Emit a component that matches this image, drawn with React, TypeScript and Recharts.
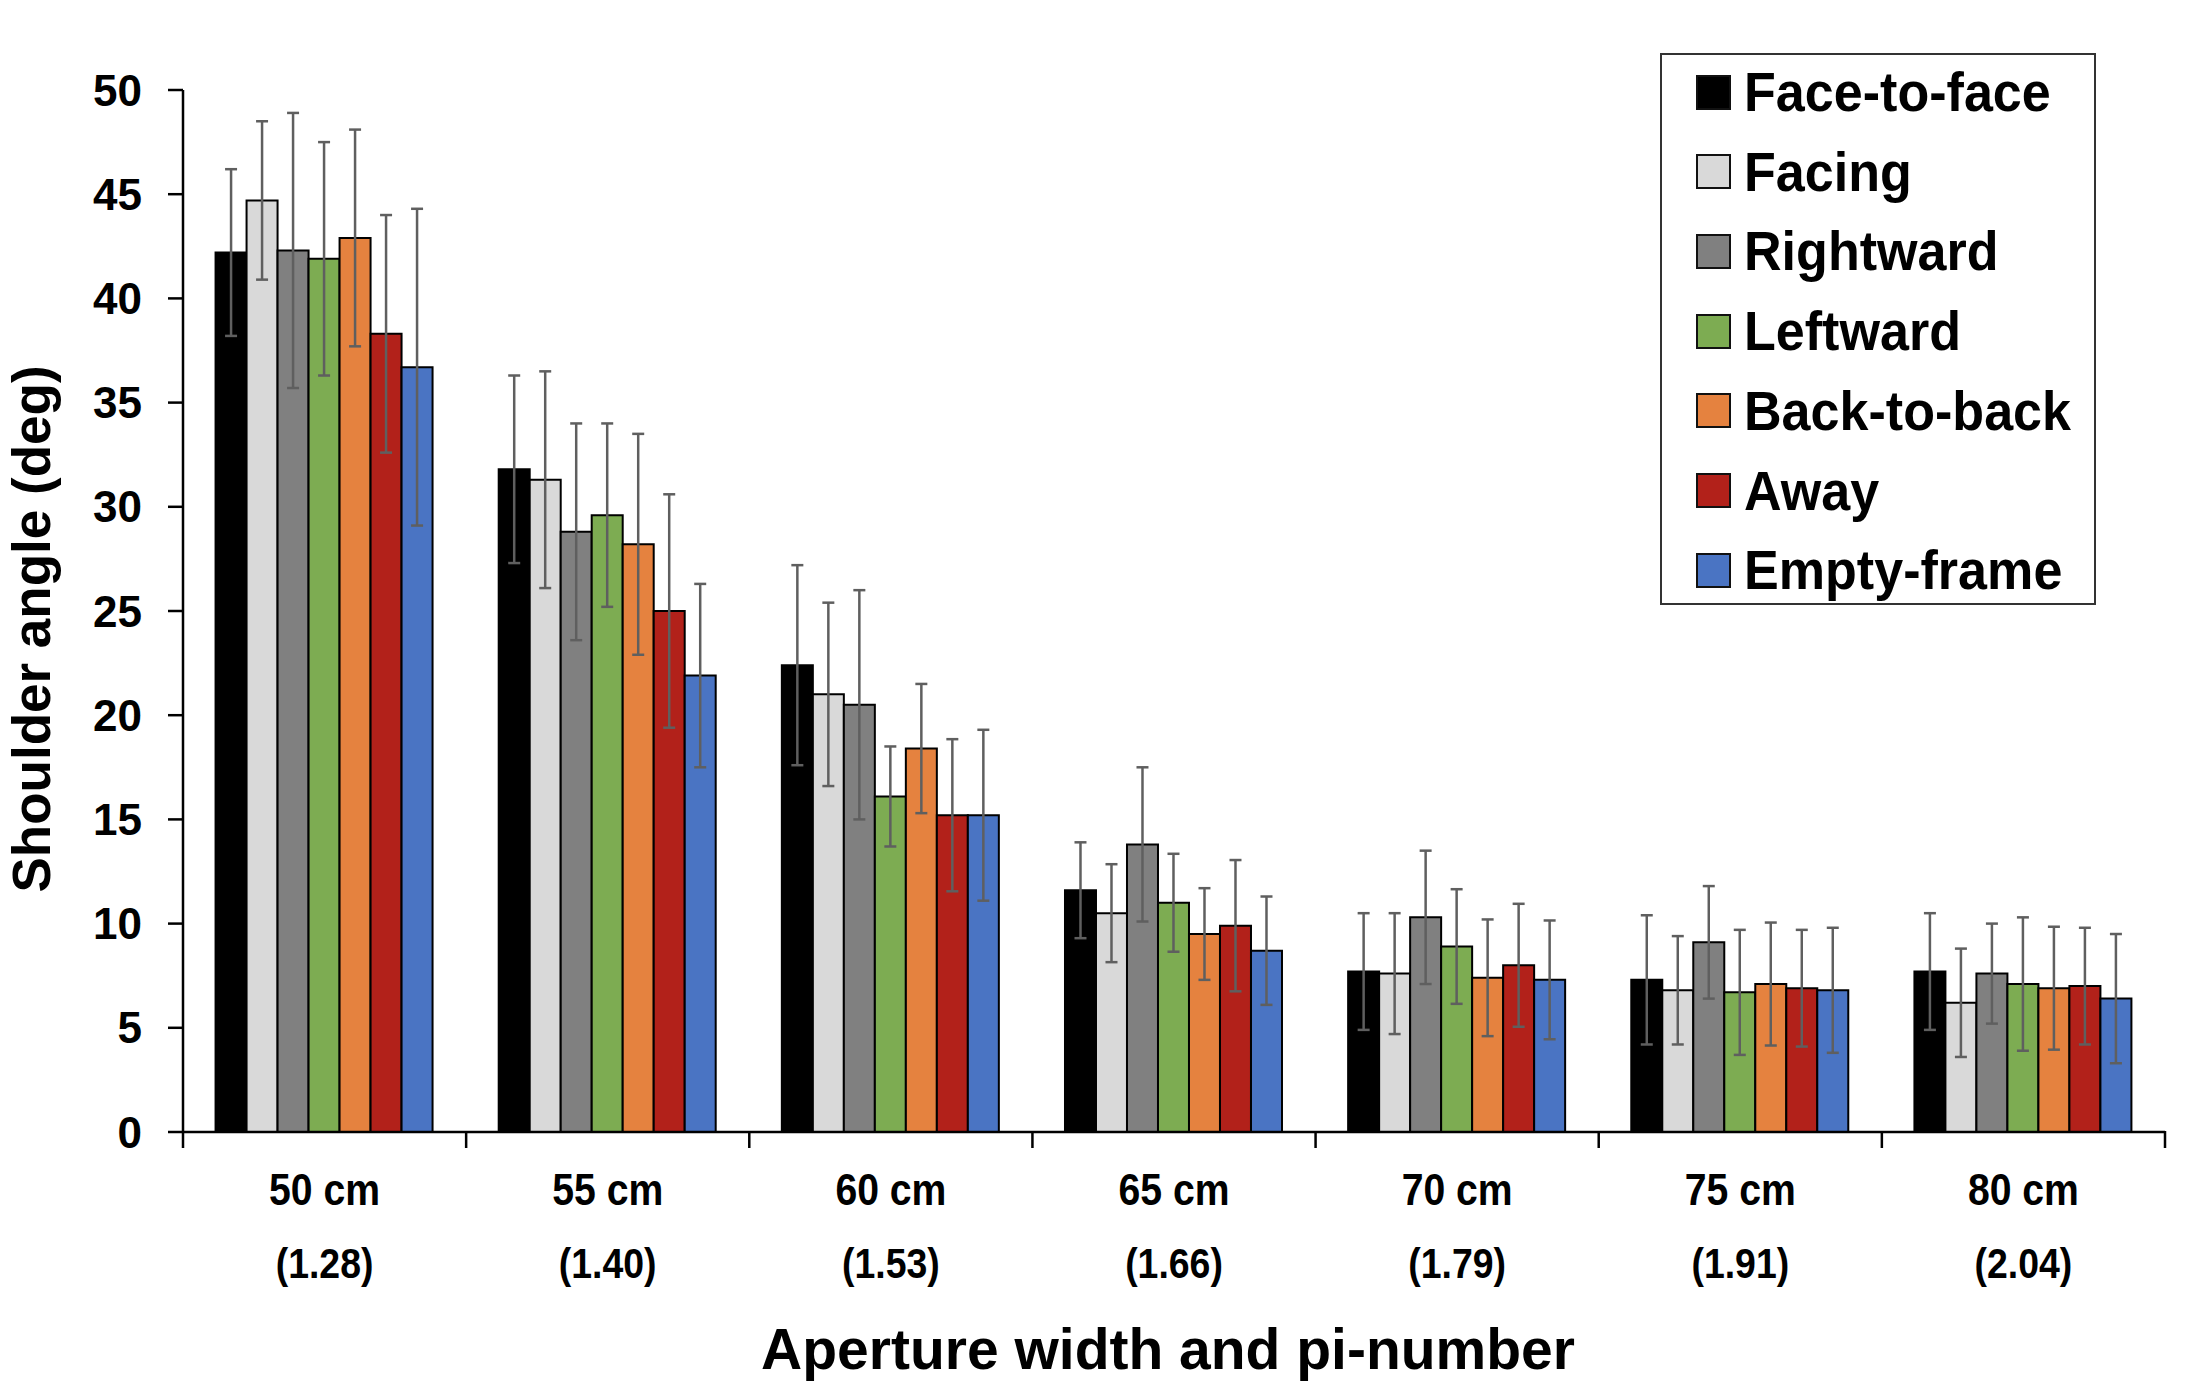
import React from 'react';
import { BarChart, Bar, XAxis, YAxis, ErrorBar, Legend } from 'recharts';

const categories = ['50 cm', '55 cm', '60 cm', '65 cm', '70 cm', '75 cm', '80 cm'];
const piLabels = ['(1.28)', '(1.40)', '(1.53)', '(1.66)', '(1.79)', '(1.91)', '(2.04)'];
const yTicks = [0, 5, 10, 15, 20, 25, 30, 35, 40, 45, 50];

const faceToFace = [42.2, 31.8, 22.4, 11.6, 7.7, 7.3, 7.7];
const faceToFaceErr = [4.0, 4.5, 4.8, 2.3, 2.8, 3.1, 2.8];
const facing = [44.7, 31.3, 21.0, 10.5, 7.6, 6.8, 6.2];
const facingErr = [3.8, 5.2, 4.4, 2.35, 2.9, 2.6, 2.6];
const rightward = [42.3, 28.8, 20.5, 13.8, 10.3, 9.1, 7.6];
const rightwardErr = [6.6, 5.2, 5.5, 3.7, 3.2, 2.7, 2.4];
const leftward = [41.9, 29.6, 16.1, 11.0, 8.9, 6.7, 7.1];
const leftwardErr = [5.6, 4.4, 2.4, 2.35, 2.75, 3.0, 3.2];
const backToBack = [42.9, 28.2, 18.4, 9.5, 7.4, 7.1, 6.9];
const backToBackErr = [5.2, 5.3, 3.1, 2.2, 2.8, 2.95, 2.95];
const away = [38.3, 25.0, 15.2, 9.9, 8.0, 6.9, 7.0];
const awayErr = [5.7, 5.6, 3.65, 3.15, 2.95, 2.8, 2.8];
const emptyFrame = [36.7, 21.9, 15.2, 8.7, 7.3, 6.8, 6.4];
const emptyFrameErr = [7.6, 4.4, 4.1, 2.6, 2.85, 3.0, 3.1];

const series = [
  { key: 'ff', name: 'Face-to-face', color: '#000000', values: faceToFace, errs: faceToFaceErr },
  { key: 'fa', name: 'Facing', color: '#d9d9d9', values: facing, errs: facingErr },
  { key: 'ri', name: 'Rightward', color: '#808080', values: rightward, errs: rightwardErr },
  { key: 'le', name: 'Leftward', color: '#7dac52', values: leftward, errs: leftwardErr },
  { key: 'bb', name: 'Back-to-back', color: '#e5823f', values: backToBack, errs: backToBackErr },
  { key: 'aw', name: 'Away', color: '#b2211a', values: away, errs: awayErr },
  { key: 'em', name: 'Empty-frame', color: '#4a74c3', values: emptyFrame, errs: emptyFrameErr },
];
const seriesOrder = series.map(s => s.name);

const rows = categories.map((cat, i) => {
  const row: Record<string, any> = { cat, pi: piLabels[i] };
  series.forEach(s => {
    row[s.key] = s.values[i];
    row[s.key + 'Err'] = s.errs[i];
  });
  return row;
});

const W = 2186;
const H = 1385;
const MARGIN = { top: 82, right: 29, bottom: 0, left: 0 };
const Y_W = 175;
const PLOT_W = W - MARGIN.left - MARGIN.right - Y_W;
const BAND = PLOT_W / categories.length;

const sans = "'Liberation Sans', Arial, sans-serif";

const CatTick = (props: any) => {
  const { x, y, payload, index } = props;
  const left = x - BAND / 2;
  const right = x + BAND / 2;
  return (
    <g>
      <line x1={left} x2={left} y1={y - 17} y2={y} stroke="#000" strokeWidth={2.5} />
      {index === categories.length - 1 && (
        <line x1={right} x2={right} y1={y - 17} y2={y} stroke="#000" strokeWidth={2.5} />
      )}
      <g transform={`translate(${x}, ${y}) scale(0.87, 1)`}>
        <text x={0} y={57} textAnchor="middle" fontFamily={sans} fontWeight={700} fontSize={45} fill="#000">
          {payload.value}
        </text>
        <text x={0} y={130} textAnchor="middle" fontFamily={sans} fontWeight={700} fontSize={43} fill="#000">
          {piLabels[index]}
        </text>
      </g>
    </g>
  );
};

const YLabel = (props: any) => {
  const vb = props.viewBox;
  const cy = vb.y + vb.height / 2 + 18;
  return (
    <text x={42} y={cy} transform={`rotate(-90, 42, ${cy})`} textAnchor="middle"
      fontFamily={sans} fontWeight={700} fontSize={53} fill="#000">
      Shoulder angle (deg)
    </text>
  );
};

const XLabel = (props: any) => {
  const vb = props.viewBox;
  return (
    <text x={vb.x + vb.width / 2 - 6} y={vb.y + 237} textAnchor="middle"
      fontFamily={sans} fontWeight={700} fontSize={57} fill="#000">
      Aperture width and pi-number
    </text>
  );
};

const LegendBox = (props: any) => {
  const items = [...(props.payload || [])].sort(
    (a: any, b: any) => seriesOrder.indexOf(a.value) - seriesOrder.indexOf(b.value)
  );
  return (
    <div style={{ width: 436, height: 552, boxSizing: 'border-box', border: '2.5px solid #333', background: '#fff', position: 'relative' }}>
      {items.map((p: any, i: number) => (
        <div key={p.value} style={{ position: 'absolute', left: 34, top: i * 79.7 - 3, height: 80, display: 'flex', alignItems: 'center' }}>
          <div style={{ width: 35, height: 35, boxSizing: 'border-box', border: '2px solid #111', background: p.color, flex: 'none' }} />
          <span style={{ marginLeft: 13, display: 'inline-block', transform: 'scaleX(0.93)', transformOrigin: 'left center', fontFamily: sans, fontWeight: 700, fontSize: 56, color: '#000', lineHeight: '80px', whiteSpace: 'nowrap' }}>
            {p.value}
          </span>
        </div>
      ))}
    </div>
  );
};

export default function App() {
  return (
    <div style={{ width: W, height: H, background: '#fff' }}>
      <BarChart width={W} height={H} data={rows} margin={MARGIN} barCategoryGap="11.5%" barGap={0}>
        <XAxis
          dataKey="cat"
          height={H - MARGIN.top - MARGIN.bottom - 1042}
          interval={0}
          tickLine={false}
          tickSize={16}
          tickMargin={0}
          axisLine={{ stroke: '#000', strokeWidth: 2.5 }}
          tick={<CatTick />}
          label={<XLabel />}
        />
        <YAxis
          domain={[0, 50]}
          ticks={yTicks}
          interval={0}
          width={Y_W}
          tickSize={15}
          tickMargin={26}
          axisLine={{ stroke: '#000', strokeWidth: 2.5 }}
          tickLine={{ stroke: '#000', strokeWidth: 2.5 }}
          tick={{ fontFamily: sans, fontWeight: 700, fontSize: 44, fill: '#000' }}
          label={<YLabel />}
        />
        <Legend
          layout="vertical"
          align="center"
          verticalAlign="middle"
          content={<LegendBox />}
          wrapperStyle={{ position: 'absolute', top: 45, left: 1652, width: 436, height: 552 }}
        />
        {series.map(s => (
          <Bar key={s.key} dataKey={s.key} name={s.name} fill={s.color} stroke="#000" strokeWidth={2} isAnimationActive={false}>
            <ErrorBar dataKey={s.key + 'Err'} width={6} stroke="#5f5f5f" strokeWidth={2.5} isAnimationActive={false} />
          </Bar>
        ))}
      </BarChart>
    </div>
  );
}
